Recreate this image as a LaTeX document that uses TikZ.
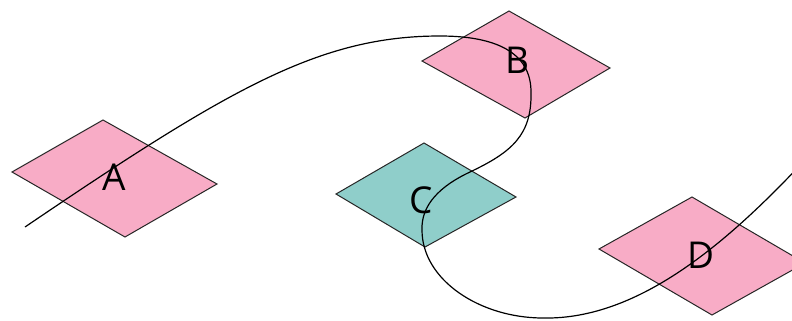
\documentclass[tikz,border=0pt]{standalone}
\usepackage{fontspec}
\setmainfont{Open Sans}
\definecolor{pinkfill}{RGB}{248,172,198}
\definecolor{tealfill}{RGB}{143,206,202}
\tikzset{
  shapeline/.style={draw=black!85, line width=1pt, line join=miter},
  lbl/.style={font=\fontsize{37}{37}\selectfont, text=black, inner sep=0pt},
  wire/.style={draw=black, line width=1.2pt}
}
\begin{document}
\begin{tikzpicture}[x=1pt,y=-1pt]
\useasboundingbox (0,0) rectangle (792,321);
\clip (0,0) rectangle (792,321);
% diamonds
\path[shapeline, fill=pinkfill] (103,120) -- (217,184) -- (125,237) -- (12,172) -- cycle;
\path[shapeline, fill=pinkfill] (509,11) -- (610,68) -- (525,118) -- (422,61) -- cycle;
\path[shapeline, fill=tealfill] (424,143) -- (516,197) -- (425,247) -- (336,194) -- cycle;
\path[shapeline, fill=pinkfill] (692,197) -- (805,263) -- (712,315) -- (599,249) -- cycle;
% labels
\node[lbl] (A) at (114,177) {A};
\node[lbl] (B) at (517,60) {B};
\node[lbl] (C) at (421,200) {C};
\node[lbl] (D) at (701,255) {D};
% curve points
\coordinate (s) at (25,227);
\coordinate (top) at (440,36);
\coordinate (rb) at (531,92);
\coordinate (ip) at (470,172);
\coordinate (lc) at (422,230);
\coordinate (bot) at (543,318);
\coordinate (e) at (805,160);
\draw[wire] (s) .. controls (230,88) and (320,36) .. (top)
  .. controls (495,36) and (531,52) .. (rb)
  .. controls (532,135) and (512,152) .. (ip)
  .. controls (440,186) and (421,205) .. (lc)
  .. controls (422,280) and (480,318) .. (bot)
  .. controls (640,320) and (730,240) .. (e);
\end{tikzpicture}
\end{document}
